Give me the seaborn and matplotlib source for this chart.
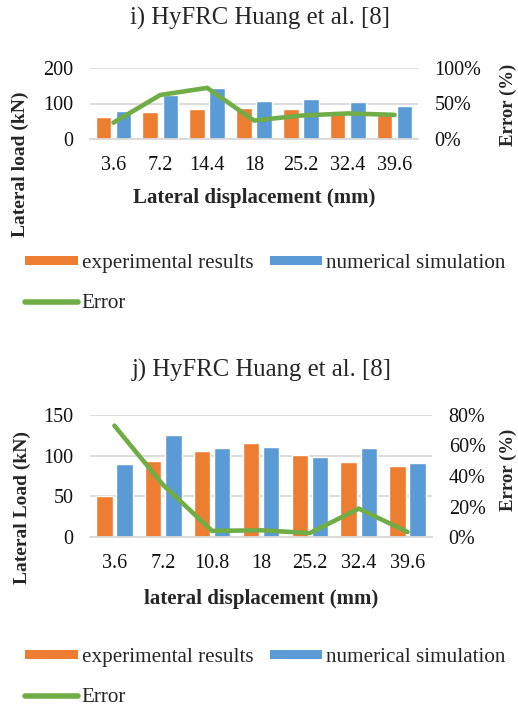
import numpy as np
import pandas as pd
import matplotlib
matplotlib.use("Agg")
import matplotlib.pyplot as plt
from matplotlib.patches import Patch
from matplotlib.lines import Line2D
from matplotlib.ticker import PercentFormatter, FixedLocator
import seaborn as sns

# ---- data ----
disp_i = ["3.6", "7.2", "14.4", "18", "25.2", "32.4", "39.6"]
exp_i = [62, 76, 85, 86, 85, 75, 72]
num_i = [78, 125, 144, 108, 113, 103, 92]
err_i = [0.23, 0.62, 0.72, 0.26, 0.33, 0.36, 0.34]

disp_j = ["3.6", "7.2", "10.8", "18", "25.2", "32.4", "39.6"]
exp_j = [51, 94, 106, 116, 101, 92.5, 87]
num_j = [90, 125, 110, 111, 98, 109, 90.5]
err_j = [0.73, 0.34, 0.04, 0.044, 0.026, 0.186, 0.033]

series_names = ["experimental results", "numerical simulation"]
ORANGE = "#ED7D31"
BLUE = "#5B9BD5"
GREEN = "#70AD47"
GRID = "#D9D9D9"

TICK_FS = 14.5
XLABEL_FS = 15
YLABEL_FS = 14
ERRLABEL_FS = 13.5
LEGEND_FS = 15.2
TITLE_FS = 17.8

sns.set_theme(style="white")
plt.rcParams["font.family"] = ["Liberation Serif", "DejaVu Serif"]
plt.rcParams["font.size"] = 14

W, H = 518, 708
fig = plt.figure(figsize=(W / 100, H / 100), dpi=100)


def px_axes(left, top, right, bottom):
    return fig.add_axes([left / W, 1 - bottom / H, (right - left) / W, (bottom - top) / H])


def panel(ax, cats, exp, num, err, ymax, yticks, emax, eticks, ylabel, xlabel,
          ylab_xy, elab_xy, xlab_y, width, gap):
    df = pd.DataFrame({
        "disp": cats * 2,
        "load": exp + num,
        "series": [series_names[0]] * len(cats) + [series_names[1]] * len(cats),
    })
    sns.barplot(data=df, x="disp", y="load", hue="series", order=cats,
                hue_order=series_names, palette=[ORANGE, BLUE],
                width=width, gap=gap, saturation=1, legend=False, ax=ax)
    ax.set_ylim(0, ymax)
    ax.yaxis.set_major_locator(FixedLocator(yticks))
    ax.yaxis.grid(True, color=GRID, linewidth=1.3)
    ax.set_axisbelow(True)
    for s in ["left", "right", "top"]:
        ax.spines[s].set_visible(False)
    ax.spines["bottom"].set_color(GRID)
    ax.spines["bottom"].set_linewidth(1.3)
    ax.tick_params(axis="both", length=0, labelsize=TICK_FS, colors="#111111")
    ax.tick_params(axis="x", pad=12)
    ax.tick_params(axis="y", pad=12)
    ax.set_xlim(-0.5, len(cats) - 0.5)

    ax.set_ylabel(ylabel, fontsize=YLABEL_FS, fontweight="bold")
    ax.yaxis.set_label_coords(*ylab_xy)
    ax.set_xlabel(xlabel, fontsize=XLABEL_FS, fontweight="bold")
    ax.xaxis.set_label_coords(0.5, xlab_y)

    ax2 = ax.twinx()
    sns.lineplot(x=np.arange(len(cats)), y=err, ax=ax2, color=GREEN,
                 linewidth=3.3, solid_capstyle="round", solid_joinstyle="miter")
    ax2.set_ylim(0, emax)
    ax2.yaxis.set_major_locator(FixedLocator(eticks))
    ax2.yaxis.set_major_formatter(PercentFormatter(1.0, decimals=0))
    for s in ["left", "right", "top", "bottom"]:
        ax2.spines[s].set_visible(False)
    ax2.tick_params(axis="y", length=0, labelsize=TICK_FS, pad=12, colors="#111111")
    ax2.set_ylabel("Error (%)", fontsize=ERRLABEL_FS, fontweight="bold")
    ax2.yaxis.set_label_coords(*elab_xy)
    ax2.grid(False)
    ax2.set_xlim(-0.5, len(cats) - 0.5)
    return ax2


def legend(top_y):
    handles = [
        Patch(facecolor=ORANGE, edgecolor="none", label=series_names[0]),
        Line2D([0], [0], color=GREEN, linewidth=4, solid_capstyle="round", label="Error"),
        Patch(facecolor=BLUE, edgecolor="none", label=series_names[1]),
    ]
    fig.legend(handles=handles, loc="upper left", bbox_to_anchor=(25 / W, 1 - top_y / H),
               ncol=2, frameon=False, fontsize=LEGEND_FS, handlelength=2.5, handleheight=0.32,
               handletextpad=0.18, columnspacing=0.78, labelspacing=1.0,
               borderpad=0, borderaxespad=0)


# ---- panel i ----
ax_i = px_axes(90, 68, 418, 139)
panel(ax_i, disp_i, exp_i, num_i, err_i, 200, [0, 100, 200], 1.0, [0, 0.5, 1.0],
      "Lateral load (kN)", "Lateral displacement (mm)",
      ((29 - 90) / 328, (139 - 164) / 71), ((500 - 90) / 328, (139 - 105) / 71),
      (139 - 188) / 71, 0.86, 0.23)
fig.text(260 / W, 1 - 18 / H, "i) HyFRC Huang et al. [8]", ha="center", va="center", fontsize=TITLE_FS)
legend(254)

# ---- panel j ----
ax_j = px_axes(90, 415, 432, 537)
panel(ax_j, disp_j, exp_j, num_j, err_j, 150, [0, 50, 100, 150], 0.8, [0, 0.2, 0.4, 0.6, 0.8],
      "Lateral Load (kN)", "lateral displacement (mm)",
      ((31 - 90) / 342, (537 - 507) / 122), ((500 - 90) / 342, (537 - 470) / 122),
      (537 - 589) / 122, 0.83, 0.19)
fig.text(262 / W, 1 - 370 / H, "j) HyFRC Huang et al. [8]", ha="center", va="center", fontsize=TITLE_FS)
legend(648)

fig.savefig("out.png", dpi=100, facecolor="white")
